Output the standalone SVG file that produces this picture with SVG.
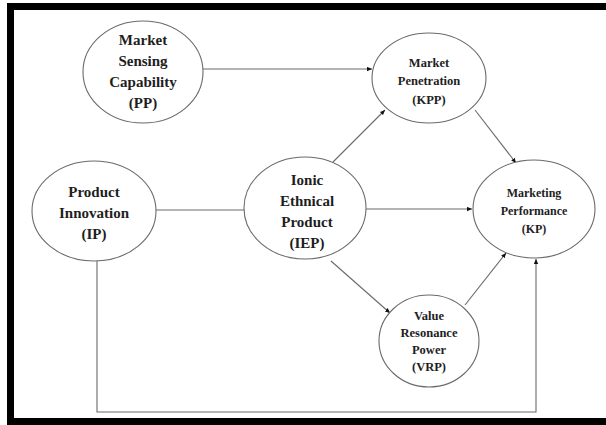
<svg xmlns="http://www.w3.org/2000/svg" width="606" height="425" viewBox="0 0 606 425">
<style>
.node ellipse{fill:#fff;stroke:#6a6a6a;stroke-width:1.1}
.node text{font-family:"Liberation Serif","Times New Roman",serif;font-weight:bold;fill:#1e1e1e;text-anchor:middle}
.big text{font-size:15px}
.small text{font-size:12.5px}
.conn path{fill:none;stroke:#6a6a6a;stroke-width:1.1}
</style>
<defs>
<marker id="arr" markerUnits="userSpaceOnUse" markerWidth="6" markerHeight="5" refX="5" refY="2.5" orient="auto">
<path d="M0,0.3 L5,2.5 L0,4.7 z" fill="#111"/>
</marker>
</defs>
<rect x="0" y="0" width="606" height="425" fill="#fff"/>
<rect x="10.5" y="6.5" width="605" height="415" fill="none" stroke="#000" stroke-width="7"/>
<g id="connectors" class="conn">
<path d="M203,69 L372,69" marker-end="url(#arr)"/>
<path d="M156,210 L244,210"/>
<path d="M333,162 L385,110" marker-end="url(#arr)"/>
<path d="M475,110 L516,163" marker-end="url(#arr)"/>
<path d="M366,209 L472,209" marker-end="url(#arr)"/>
<path d="M331,261 L390,313" marker-end="url(#arr)"/>
<path d="M465,305 L506,253" marker-end="url(#arr)"/>
<path d="M97,261 L97,412 L536,412 L536,259" marker-end="url(#arr)"/>
</g>
<g id="PP" class="node big">
<ellipse cx="143" cy="72" rx="60" ry="51"/>
<text x="143" y="45">Market</text>
<text x="143" y="66">Sensing</text>
<text x="143" y="87">Capability</text>
<text x="143" y="108">(PP)</text>
</g>
<g id="IP" class="node big">
<ellipse cx="94" cy="211" rx="62" ry="50"/>
<text x="94" y="197">Product</text>
<text x="94" y="218">Innovation</text>
<text x="94" y="239">(IP)</text>
</g>
<g id="IEP" class="node big">
<ellipse cx="305" cy="208" rx="61" ry="51"/>
<text x="307" y="185">Ionic</text>
<text x="307" y="206">Ethnical</text>
<text x="307" y="227">Product</text>
<text x="307" y="248">(IEP)</text>
</g>
<g id="KPP" class="node small">
<ellipse cx="429" cy="78" rx="57" ry="45"/>
<text x="429" y="66.5">Market</text>
<text x="429" y="85">Penetration</text>
<text x="429" y="103.5">(KPP)</text>
</g>
<g id="KP" class="node small">
<ellipse cx="534" cy="209" rx="61" ry="49"/>
<text x="534" y="197" style="font-size:12px">Marketing</text>
<text x="534" y="215" style="font-size:12px">Performance</text>
<text x="534" y="233" style="font-size:12px">(KP)</text>
</g>
<g id="VRP" class="node small">
<ellipse cx="429" cy="341" rx="50" ry="46"/>
<text x="429" y="320">Value</text>
<text x="429" y="337">Resonance</text>
<text x="429" y="354">Power</text>
<text x="429" y="371">(VRP)</text>
</g>
</svg>
